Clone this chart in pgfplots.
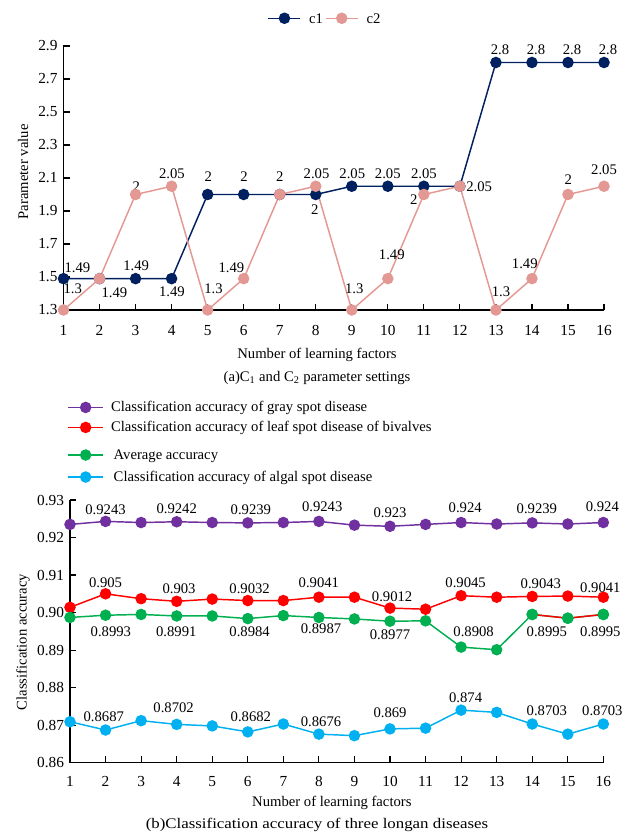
\documentclass[border=0pt]{standalone}
\usepackage{fontspec}
\setmainfont{Liberation Serif}
\usepackage{graphicx}
\usepackage{pgfplots}
\pgfplotsset{compat=1.18}

\definecolor{cone}{RGB}{0,32,96}
\definecolor{ctwo}{RGB}{228,152,148}
\definecolor{cpur}{RGB}{112,48,160}
\definecolor{cred}{RGB}{255,0,0}
\definecolor{cgrn}{RGB}{0,176,80}
\definecolor{cblu}{RGB}{0,176,240}

\tikzset{lab/.style={font=\fontsize{11}{13}\selectfont, inner sep=0pt}}
\newcommand{\lb}[5]{\node[lab,xshift=#1pt,yshift=#2pt] at (axis cs:#3,#4) {#5};}

\pgfplotsset{
  base/.style={
    scale only axis, axis lines=left, axis line style={-, line width=0.9pt},
    tick align=inside, major tick length=4.8pt,
    tick style={black, line width=0.9pt},
    xmin=1, xmax=16, xtick={1,2,3,4,5,6,7,8,9,10,11,12,13,14,15,16},
    xticklabels={1,2,3,4,5,6,7,8,9,10,11,12,13,14,15,16},
    tick label style={font=\fontsize{11.5}{13}\selectfont},
    yticklabel style={xshift=-1pt},
    clip=false,
    every axis plot/.append style={line width=1.1pt, mark=*, mark size=3.75pt},
    legend cell align=left,
  }
}

\begin{document}
\begin{tikzpicture}
% ---------------- top chart ----------------
\begin{axis}[base, at={(0,0)}, anchor=south west,
  width=405.4pt, height=198pt,
  ymin=1.3, ymax=2.9,
  ytick={1.3,1.5,1.7,1.9,2.1,2.3,2.5,2.7,2.9},
  yticklabels={1.3,1.5,1.7,1.9,2.1,2.3,2.5,2.7,2.9},
  xticklabel style={yshift=-8pt},
  legend columns=2,
  legend image code/.code={\draw[mark repeat=2,mark phase=2,#1] plot coordinates {(0pt,0pt) (12pt,0pt) (24pt,0pt)};},
  legend style={at={(0.482,1.105)}, anchor=center, draw=none, fill=none, inner sep=0pt,
    font=\fontsize{11}{13}\selectfont, nodes={inner sep=0pt, text depth=},
    /tikz/every odd column/.append style={column sep=6pt},
    /tikz/every even column/.append style={column sep=1.5pt}},
]
\addplot[color=cone, mark options={fill=cone}] coordinates {
 (1,1.49)(2,1.49)(3,1.49)(4,1.49)(5,2)(6,2)(7,2)(8,2)
 (9,2.05)(10,2.05)(11,2.05)(12,2.05)(13,2.8)(14,2.8)(15,2.8)(16,2.8)};
\addlegendentry{c1}
\addplot[color=ctwo, mark options={fill=ctwo}] coordinates {
 (1,1.3)(2,1.49)(3,2)(4,2.05)(5,1.3)(6,1.49)(7,2)(8,2.05)
 (9,1.3)(10,1.49)(11,2)(12,2.05)(13,1.3)(14,1.49)(15,2)(16,2.05)};
\addlegendentry{c2}
\lb{10.5}{8.5}{1}{1.49}{1.49}
\lb{7}{15.75}{1}{1.3}{1.3}
\lb{11.2}{-10.6}{2}{1.49}{1.49}
\lb{0.5}{9.5}{3}{1.49}{1.49}
\lb{0.5}{6}{3}{2}{2}
\lb{0.2}{9.75}{4}{2.05}{2.05}
\lb{0.2}{-9.8}{4}{1.49}{1.49}
\lb{0.5}{13.3}{5}{2}{2}
\lb{4.4}{15.75}{5}{1.3}{1.3}
\lb{0.3}{13.3}{6}{2}{2}
\lb{-9.2}{8.2}{6}{1.49}{1.49}
\lb{0}{13.3}{7}{2}{2}
\lb{0.6}{9.75}{8}{2.05}{2.05}
\lb{-0.8}{-11.6}{8}{2}{2}
\lb{0.4}{9.75}{9}{2.05}{2.05}
\lb{1.9}{16.3}{9}{1.3}{1.3}
\lb{0}{9.75}{10}{2.05}{2.05}
\lb{3}{17.7}{10}{1.49}{1.49}
\lb{0}{9.75}{11}{2.05}{2.05}
\lb{-7.6}{-4.1}{11}{2}{2}
\lb{14.4}{-0.3}{12}{2.05}{2.05}
\lb{3.75}{13.7}{13}{1.3}{1.3}
\lb{-5.4}{11.5}{14}{1.49}{1.49}
\lb{0.2}{10.9}{15}{2}{2}
\lb{0}{12.2}{16}{2.05}{2.05}
\lb{3}{9.4}{13}{2.8}{2.8}
\lb{3}{9.4}{14}{2.8}{2.8}
\lb{3}{9.4}{15}{2.8}{2.8}
\lb{3}{9.4}{16}{2.8}{2.8}
\node[lab, rotate=90] at (axis description cs:-0.0749,0.523) {Parameter value};
\node[lab] at (axis description cs:0.469,-0.170) {Number of learning factors};
\node[lab] at (axis description cs:0.469,-0.258) {(a)C\textsubscript{1} and C\textsubscript{2} parameter settings};
\end{axis}

% ---------------- bottom chart ----------------
\begin{axis}[base, at={(4.875pt,-339.5pt)}, anchor=south west,
  width=400pt, height=197pt,
  ymin=0.86, ymax=0.93,
  ytick={0.86,0.87,0.88,0.89,0.90,0.91,0.92,0.93},
  yticklabels={0.86,0.87,0.88,0.89,0.90,0.91,0.92,0.93},
  xticklabel style={yshift=-6.5pt},
  legend image code/.code={\draw[mark repeat=2,mark phase=2,#1] plot coordinates {(0pt,0pt) (13pt,0pt) (26pt,0pt)};},
  legend style={at={(-0.005,1.386)}, anchor=north west, draw=none, fill=none, inner sep=0pt,
    row sep=-2pt,
    font=\fontsize{11}{13}\selectfont, nodes={inner sep=0pt, text depth=},
    /tikz/every odd column/.append style={column sep=5.5pt}},
]
\addplot[color=cpur, mark options={fill=cpur}] coordinates {
 (1,0.9235)(2,0.9243)(3,0.9240)(4,0.9242)(5,0.9240)(6,0.9239)(7,0.9240)(8,0.9243)
 (9,0.9233)(10,0.9230)(11,0.9235)(12,0.9240)(13,0.9236)(14,0.9239)(15,0.9236)(16,0.9240)};
\addlegendentry{\rule[-3.1pt]{0pt}{12.8pt}Classification accuracy of gray spot disease}
\addplot[color=cred, mark options={fill=cred}] coordinates {
 (1,0.9014)(2,0.9050)(3,0.9037)(4,0.9030)(5,0.9036)(6,0.9032)(7,0.9032)(8,0.9041)
 (9,0.9041)(10,0.9012)(11,0.9009)(12,0.9045)(13,0.9041)(14,0.9043)(15,0.9044)(16,0.9041)};
\addlegendentry{\rule[-7.3pt]{0pt}{21.2pt}Classification accuracy of leaf spot disease of bivalves}
\addplot[color=cgrn, mark options={fill=cgrn}] coordinates {
 (1,0.8987)(2,0.8993)(3,0.8995)(4,0.8991)(5,0.8991)(6,0.8984)(7,0.8992)(8,0.8987)
 (9,0.8983)(10,0.8977)(11,0.8978)(12,0.8908)(13,0.8901)(14,0.8995)(15,0.8985)(16,0.8995)};
\addlegendentry{\rule[-8.8pt]{0pt}{24.2pt}\hspace{2pt}Average accuracy}
\addplot[color=cred, mark=none, forget plot] coordinates {(14,0.8995)(15,0.8985)(16,0.8995)};
\addplot[color=cgrn, only marks, mark options={fill=cgrn}, forget plot] coordinates {(14,0.8995)(15,0.8985)(16,0.8995)};
\addplot[color=cblu, mark options={fill=cblu}] coordinates {
 (1,0.8709)(2,0.8687)(3,0.8712)(4,0.8702)(5,0.8698)(6,0.8682)(7,0.8703)(8,0.8676)
 (9,0.8672)(10,0.8690)(11,0.8692)(12,0.8740)(13,0.8734)(14,0.8703)(15,0.8676)(16,0.8703)};
\addlegendentry{\rule[-3.1pt]{0pt}{12.8pt}\hspace{2pt}Classification accuracy of algal spot disease}
% purple labels
\lb{0}{9}{2}{0.9243}{0.9243}
\lb{0}{10}{4}{0.9242}{0.9242}
\lb{2.3}{10.2}{6}{0.9239}{0.9239}
\lb{2.5}{11}{8}{0.9243}{0.9243}
\lb{0}{10.5}{10}{0.9230}{0.923}
\lb{3.1}{11.4}{12}{0.9240}{0.924}
\lb{3.5}{11}{14}{0.9239}{0.9239}
\lb{-0.75}{11.9}{16}{0.9240}{0.924}
% red labels
\lb{0}{8.3}{2}{0.9050}{0.905}
\lb{1.8}{9.75}{4}{0.9030}{0.903}
\lb{1.4}{9.2}{6}{0.9032}{0.9032}
\lb{0}{10.8}{8}{0.9041}{0.9041}
\lb{1.6}{8.4}{10}{0.9012}{0.9012}
\lb{3.4}{9.7}{12}{0.9045}{0.9045}
\lb{6.5}{9.3}{14}{0.9043}{0.9043}
\lb{-2.2}{7.4}{16}{0.9041}{0.9041}
% green labels
\lb{4}{-12.4}{2}{0.8993}{0.8993}
\lb{-0.3}{-11.8}{4}{0.8991}{0.8991}
\lb{1.4}{-9.8}{6}{0.8984}{0.8984}
\lb{1.6}{-8.6}{8}{0.8987}{0.8987}
\lb{0}{-10.4}{10}{0.8977}{0.8977}
\lb{9.4}{11.6}{12}{0.8908}{0.8908}
\lb{11}{-13}{14}{0.8995}{0.8995}
\lb{-2.2}{-13}{16}{0.8995}{0.8995}
% blue labels
\lb{-1.3}{10}{2}{0.8687}{0.8687}
\lb{-2.3}{12.8}{4}{0.8702}{0.8702}
\lb{2.3}{11.4}{6}{0.8682}{0.8682}
\lb{1.6}{9.4}{8}{0.8676}{0.8676}
\lb{0}{12.5}{10}{0.8690}{0.869}
\lb{3.4}{9.4}{12}{0.8740}{0.874}
\lb{11}{9.75}{14}{0.8703}{0.8703}
\lb{-0.75}{9.75}{16}{0.8703}{0.8703}
\node[lab, rotate=90] at (axis description cs:-0.088,0.459) {Classification accuracy};
\node[lab] at (axis description cs:0.491,-0.152) {Number of learning factors};
\node[lab] at (axis description cs:0.463,-0.236) {\scalebox{1.15}[1]{(b)Classification accuracy of three longan diseases}};
\end{axis}
\pgfresetboundingbox
\path[use as bounding box] (-47.625pt,-393pt) rectangle (418.125pt,232.5pt);
\end{tikzpicture}
\end{document}
